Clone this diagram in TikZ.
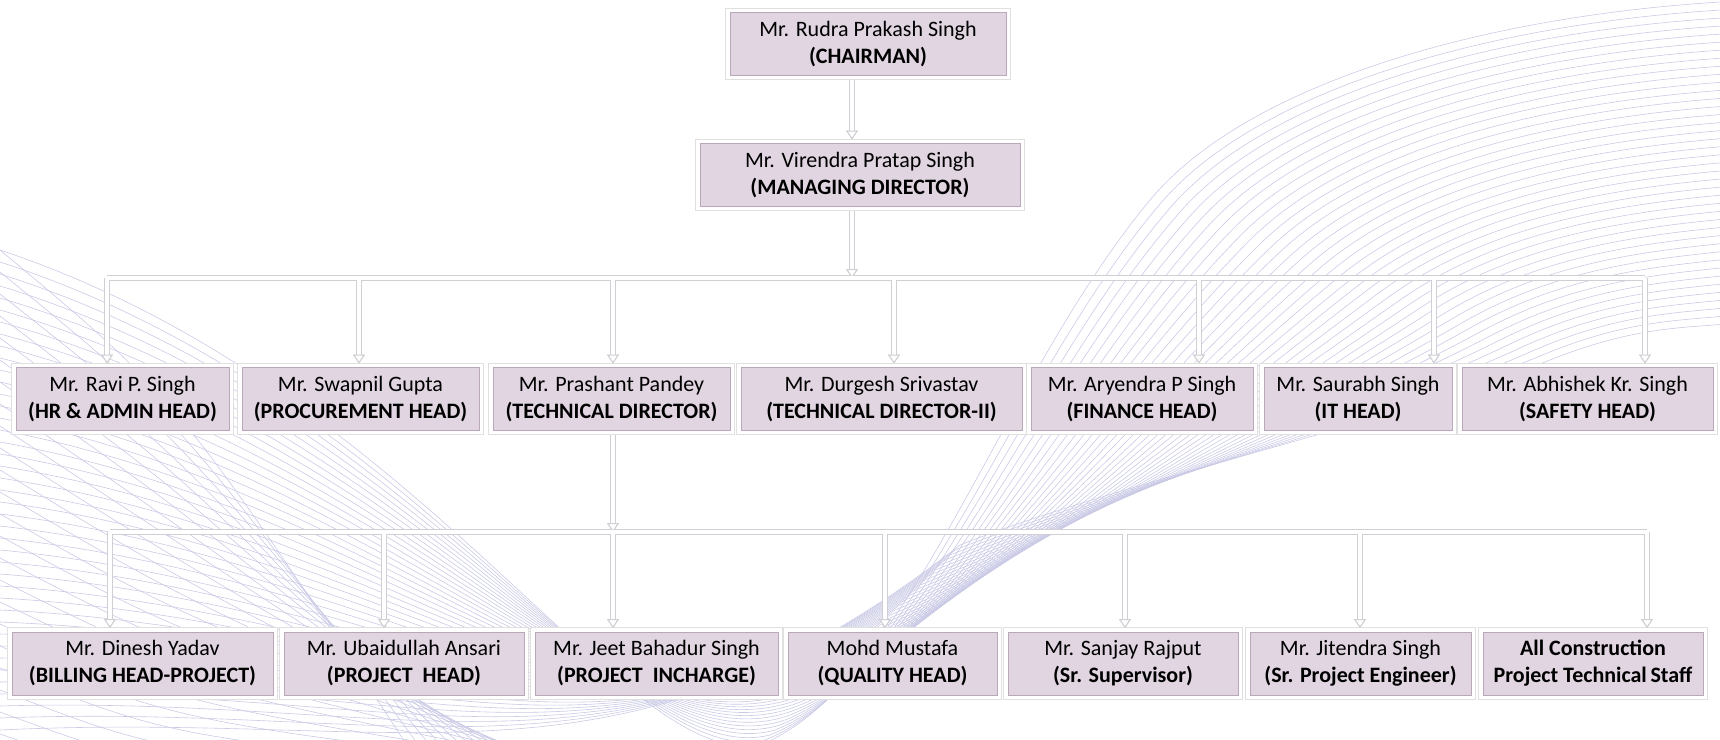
\documentclass[tikz,border=0pt]{standalone}
\usepackage{fontspec}
\setmainfont{Carlito}
\usetikzlibrary{arrows.meta}
\definecolor{boxfill}{RGB}{224,213,224}
\definecolor{boxedge}{RGB}{186,168,186}
\definecolor{linkedge}{RGB}{208,208,212}
\definecolor{wavecol}{RGB}{202,202,230}

\begin{document}
\begin{tikzpicture}[
  x=1pt, y=-1pt,
  person/.style={rectangle, fill=boxfill, draw=boxedge, line width=1pt,
    minimum height=63pt, inner sep=2pt, outer sep=4pt, align=center,
    font=\fontsize{22}{27}\selectfont,
    preaction={draw=black!12, line width=9.5pt},
    preaction={draw=white, line width=7.5pt}},
  linkbg/.style={draw=linkedge, line width=5.5pt},
  linkfg/.style={draw=white, line width=3.2pt},
  headtip/.style={-{Triangle[width=12pt, length=9pt, color=linkedge, fill=white, line width=1pt]}},
  wave/.style={draw=wavecol, line width=.6pt},
]
\useasboundingbox (0,0) rectangle (1720,739);

% background swoosh
\begin{scope}
  \clip (0,0) rectangle (1720,739);
  \foreach \i in {0,...,40}
    \draw[wave] (0,{250+12*\i}) .. controls (420,{390+8*\i}) and (620,{770+\i})
      .. ({760+5*\i},{745-5*\i}) .. controls ({910+5*\i},{685-5*\i}) and ({1000+10*\i},{380+\i})
      .. ({1150+10*\i},{200+4*\i}) .. controls ({1250+10*\i},{80+6*\i}) and ({1500+5*\i},{10+8*\i}) .. (1760,{8*\i});
  \foreach \j in {0,...,22}
    \draw[wave] (0,{250+22*\j}) .. controls (180,{400+18*\j}) .. ({430+14*\j},780);
\end{scope}

% top
\node[person, minimum width=276pt] (chair) at (868,44) {Mr. Rudra Prakash Singh\\\textbf{(CHAIRMAN)}};
\node[person, minimum width=320pt] (md) at (860,175) {Mr. Virendra Pratap Singh\\\textbf{(MANAGING DIRECTOR)}};

% heads
\foreach \id/\x/\w/\who/\role in {
  hr/122.5/213/Mr. Ravi P. Singh/HR \& ADMIN HEAD,
  proc/360.5/237/Mr. Swapnil Gupta/PROCUREMENT HEAD,
  td/611.5/237/Mr. Prashant Pandey/TECHNICAL DIRECTOR,
  tdii/881.5/281/Mr. Durgesh Srivastav/TECHNICAL DIRECTOR-II,
  fin/1142/222/Mr. Aryendra P Singh/FINANCE HEAD,
  it/1358/188/Mr. Saurabh Singh/IT HEAD,
  safety/1587.5/251/Mr. Abhishek Kr. Singh/SAFETY HEAD}
  \node[person, minimum width=\w pt] (\id) at (\x,399) {\who\\\textbf{(\role)}};

% project team
\foreach \id/\x/\w/\who/\role in {
  bill/142.5/261/Mr. Dinesh Yadav/BILLING HEAD-PROJECT,
  ph/404/240/Mr. Ubaidullah Ansari/PROJECT\ \ HEAD,
  pi/656.5/243/Mr. Jeet Bahadur Singh/PROJECT\ \ INCHARGE,
  qh/892.5/209/Mohd Mustafa/QUALITY HEAD,
  sup/1123/230/Mr. Sanjay Rajput/Sr. Supervisor,
  spe/1360.5/221/Mr. Jitendra Singh/Sr. Project Engineer}
  \node[person, minimum width=\w pt] (\id) at (\x,663.5) {\who\\\textbf{(\role)}};
\node[person, minimum width=220pt, font=\bfseries\fontsize{22}{27}\selectfont] (staff) at (1593,663.5) {All Construction\\Project Technical\,Staff};

% links
\coordinate (bus1) at (852,278);
\coordinate (bus2) at (613,532);
\foreach \id/\x in {hr/107, proc/359, td/613, tdii/894, fin/1199, it/1434, safety/1645}
  \coordinate (d\id) at (\x,278);
\foreach \id/\x in {bill/110, ph/384, pi/613, qh/885, sup/1125, spe/1360, staff/1647}
  \coordinate (d\id) at (\x,532);
\foreach \pass in {linkbg,linkfg} {
  \draw[\pass,headtip] (chair.south -| bus1) -- (md.north -| bus1);
  \draw[\pass,headtip] (md.south -| bus1) -- (bus1);
  \draw[\pass,headtip] (td.south -| bus2) -- (bus2);
  \draw[\pass] (dhr) -- (dsafety);
  \draw[\pass] (dbill) -- (dstaff);
  \foreach \id in {hr,proc,td,tdii,fin,it,safety,bill,ph,pi,qh,sup,spe,staff}
    \draw[\pass,headtip] (d\id) -- (\id.north -| d\id);
}
\end{tikzpicture}
\end{document}
